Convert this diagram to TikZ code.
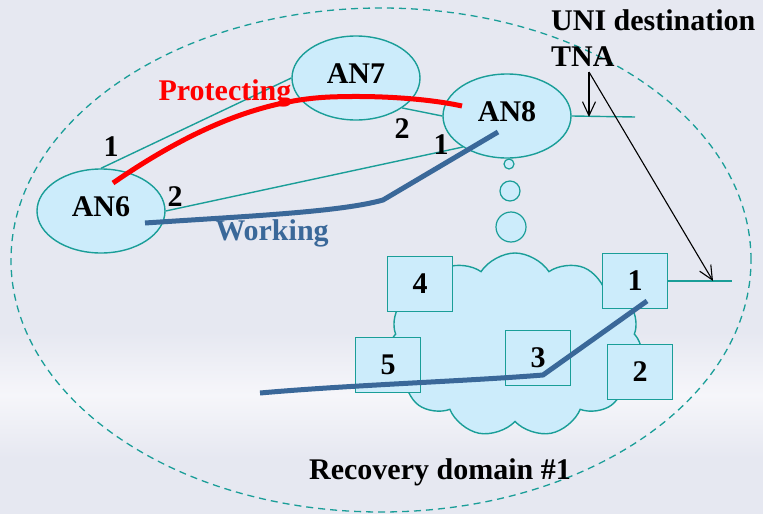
\documentclass[tikz,border=0pt]{standalone}
\usepackage{fontspec}
\setmainfont{Liberation Serif}
\usetikzlibrary{shapes.geometric,shapes.symbols,arrows.meta}
\definecolor{bg}{RGB}{230,232,241}
\definecolor{bgl}{RGB}{246,246,250}
\definecolor{tealc}{RGB}{26,158,152}
\definecolor{fillb}{RGB}{204,236,251}
\definecolor{wblue}{RGB}{58,104,153}
\begin{document}
\begin{tikzpicture}[x=1pt,y=-1pt,
  lbl/.style={font=\fontsize{30}{32}\selectfont\bfseries, inner sep=0pt},
  anode/.style={ellipse, draw=tealc, fill=fillb, line width=1.4pt, minimum width=128pt, minimum height=84pt, inner sep=0pt, text depth=8pt, font=\fontsize{30}{32}\selectfont\bfseries},
  nebox/.style={rectangle, draw=tealc, fill=fillb, line width=1.4pt, minimum width=65pt, minimum height=55pt, inner sep=0pt, font=\fontsize{30}{32}\selectfont\bfseries},
  bubble/.style={circle, draw=tealc, fill=fillb, line width=1.2pt, inner sep=0pt},
  tline/.style={draw=tealc, line width=1.4pt},
  workp/.style={draw=wblue, line width=5pt},
  protp/.style={draw=red, line width=5pt},
  barb/.style={draw=black, line width=1.1pt, -{Straight Barb[length=14pt,width=13pt,line width=1.1pt]}}
]
\useasboundingbox (0,0) rectangle (763,514);
\fill[bg] (0,0) rectangle (763,514);
\shade[top color=bg, bottom color=bg, middle color=bgl] (0,332) rectangle (763,458);

% recovery domain
\node[ellipse, draw=tealc, line width=1.3pt, dash pattern=on 7pt off 5pt, minimum width=740pt, minimum height=504pt, inner sep=0pt] (domain) at (381,260) {};

% coordinates
\coordinate (an8out) at (635,117);
\coordinate (b1out) at (732,281);
\coordinate (tnatop) at (589,72);
\coordinate (tnadown) at (589,117);
\coordinate (tnafar) at (713,281);

% access nodes
\node[anode] (an6) at (101,211) {AN6};
\node[anode] (an7) at (356,78) {AN7};
\node[anode] (an8) at (507,116) {AN8};

% teal links
\draw[tline] (an6.90) -- (an7.180);
\draw[tline] (an7.-33) -- (an8.180);
\draw[tline] (an6.0) -- (an8.215);
\draw[tline] (an8.0) -- (an8out);

% thought bubbles
\node[bubble, minimum size=10pt] (bub1) at (509,164) {};
\node[bubble, minimum size=20pt] (bub2) at (510,191) {};
\node[bubble, minimum size=30pt] (bub3) at (511,227) {};

% cloud
\node[cloud, cloud puffs=11, cloud puff arc=115, aspect=1.4, draw=tealc, fill=fillb, line width=1.4pt, minimum width=255pt, minimum height=184pt, inner sep=0pt] (cloud) at (515,345) {};

% boxes
\node[nebox] (b4) at (420,284) {4};
\node[nebox] (b1) at (635,281) {1};
\node[nebox] (b5) at (388,365) {5};
\node[nebox] (b3) at (538,358) {3};
\node[nebox] (b2) at (640,372) {2};
\draw[tline] (b1.east) -- (b1out);

% paths
\coordinate (p1) at (113,183);
\coordinate (p2) at (330,97);
\coordinate (p3) at (462,106);
\draw[protp] (p1) .. controls (190,130) and (260,100) .. (p2) .. controls (380,95) and (430,99) .. (p3);

\coordinate (w1) at (145,223);
\coordinate (w2) at (383,200);
\coordinate (w3) at (498,132);
\draw[workp] (w1) .. controls (250,216) and (340,212) .. (w2) -- (w3);

\coordinate (v1) at (260,393);
\coordinate (v2) at (543,375);
\coordinate (v3) at (647,301);
\draw[workp] (v1) .. controls (350,385) and (470,381) .. (v2) -- (v3);

% UNI arrows
\draw[barb] (tnatop) -- (tnadown);
\draw[barb] (tnatop) -- (tnafar);

% labels
\node[lbl, text=red] (prot) at (225,93) {Protecting};
\node[lbl, text=wblue] (work) at (272,233) {Working};
\node[lbl, anchor=west] (uni) at (551,20) {UNI destination};
\node[lbl, anchor=west] (tna) at (551,57) {TNA};
\node[lbl] (rd) at (440,472) {Recovery domain \#1};
\node[lbl] (l61) at (111,147) {1};
\node[lbl] (l62) at (175,197) {2};
\node[lbl] (l72) at (402,129) {2};
\node[lbl] (l81) at (441,145) {1};
\end{tikzpicture}
\end{document}
